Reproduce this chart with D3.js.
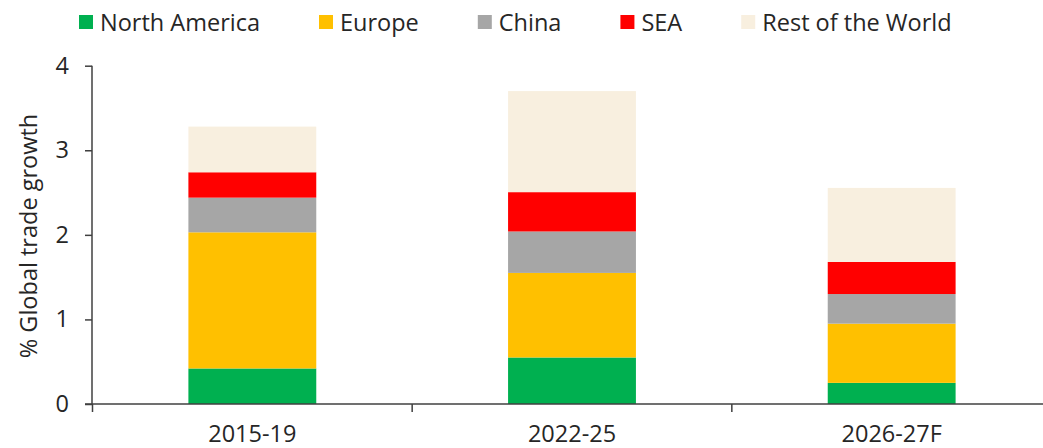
<!DOCTYPE html>
<html>
<head>
<meta charset="utf-8">
<script src="https://cdn.jsdelivr.net/npm/d3@7"></script>
<style>
  html, body { margin: 0; padding: 0; background: #fff; }
  svg { display: block; font-family: "Open Sans", sans-serif; }
</style>
</head>
<body>
<svg id="chart" width="1043" height="448"></svg>
<script>
const categories = ["2015-19", "2022-25", "2026-27F"];
const seriesNames = ["North America", "Europe", "China", "SEA", "Rest of the World"];
const northAmerica = [0.42, 0.55, 0.25];
const europe = [1.61, 1.00, 0.70];
const china = [0.41, 0.49, 0.35];
const sea = [0.30, 0.465, 0.38];
const restOfWorld = [0.54, 1.195, 0.875];
const yTicks = [0, 1, 2, 3, 4];
const colors = ["#00B050", "#FFC000", "#A6A6A6", "#FF0000", "#F8EFDF"];

const seriesValues = [northAmerica, europe, china, sea, restOfWorld];
const rows = categories.map((c, i) => {
  const r = { category: c };
  seriesNames.forEach((s, j) => r[s] = seriesValues[j][i]);
  return r;
});

const svg = d3.select("#chart");
const textColor = "#262626";
const axisColor = "#404040";
const fontSize = 23.5;

const x = d3.scaleBand().domain(categories).range([92.5, 1051.5]).paddingInner(0.6).paddingOuter(0.3);
const y = d3.scaleLinear().domain([0, 4]).range([404, 65.7]);
const color = d3.scaleOrdinal().domain(seriesNames).range(colors);

const stacked = d3.stack().keys(seriesNames)(rows);

// bars
svg.append("g").selectAll("g").data(stacked).join("g")
  .attr("fill", d => color(d.key))
  .selectAll("rect").data(d => d).join("rect")
  .attr("x", d => x(d.data.category))
  .attr("width", x.bandwidth())
  .attr("y", d => y(d[1]))
  .attr("height", d => y(d[0]) - y(d[1]));

// y axis
const yAxis = svg.append("g").attr("transform", "translate(92,0)")
  .call(d3.axisLeft(y).tickValues(yTicks).tickFormat(d3.format("d")).tickSize(7).tickPadding(16));
yAxis.select(".domain").attr("stroke", axisColor).attr("stroke-width", 1.5).attr("d", `M0,${y(4)}V${y(0)}`);
yAxis.selectAll(".tick line").attr("stroke", axisColor).attr("stroke-width", 1.5);
yAxis.selectAll(".tick text").attr("fill", textColor).attr("font-size", fontSize)
  .attr("font-family", "'Open Sans', sans-serif");

// x axis
const step = x.step();
const bounds = categories.map((c, i) => x(c) - x.paddingOuter() * step).concat([x.range()[1]]);
const xAxis = svg.append("g").attr("transform", `translate(0,${y(0)})`)
  .call(d3.axisBottom(x).tickSize(0).tickPadding(21));
xAxis.select(".domain").attr("stroke", axisColor).attr("stroke-width", 1.5)
  .attr("d", `M85,0H${x.range()[1]}`);
xAxis.selectAll(".tick text").attr("fill", textColor).attr("font-size", fontSize)
  .attr("font-family", "'Open Sans', sans-serif");
xAxis.selectAll("line.bound").data(bounds).join("line").attr("class", "bound")
  .attr("x1", d => d).attr("x2", d => d).attr("y1", 0).attr("y2", 8)
  .attr("stroke", axisColor).attr("stroke-width", 1.5);

// y title
svg.append("text")
  .attr("transform", "translate(37,236) rotate(-90)")
  .attr("text-anchor", "middle")
  .attr("fill", textColor).attr("font-size", fontSize)
  .text("% Global trade growth");

// legend
const legend = svg.append("g");
let lx = 79;
seriesNames.forEach((s, i) => {
  const g = legend.append("g");
  g.append("rect").attr("x", lx).attr("y", 15).attr("width", 14).attr("height", 14).attr("fill", color(s));
  const t = g.append("text").attr("x", lx + 21).attr("y", 31).attr("fill", textColor)
    .attr("font-size", fontSize).text(s);
  lx += 21 + t.node().getComputedTextLength() + 59;
});
</script>
</body>
</html>
